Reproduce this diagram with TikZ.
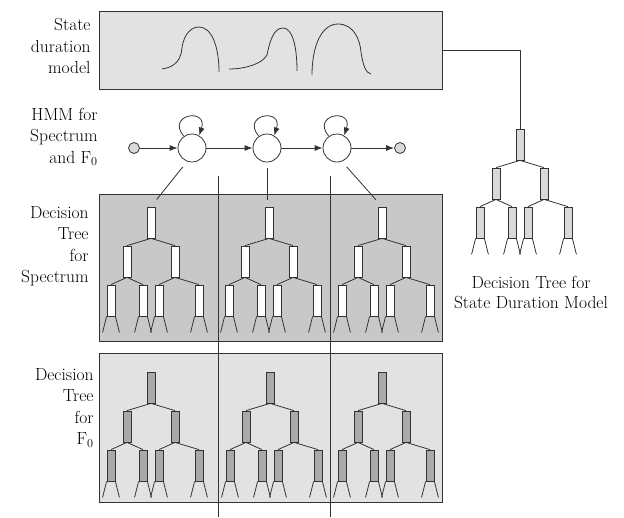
\documentclass[tikz,border=0pt]{standalone}
\usetikzlibrary{arrows.meta}

\definecolor{lightpanel}{HTML}{E2E2E3}
\definecolor{darkpanel}{HTML}{C8C8C9}
\definecolor{fzeronode}{HTML}{A9A9AA}
\definecolor{durnode}{HTML}{D9D9DA}
\definecolor{edgegray}{HTML}{333333}

\tikzset{
  panel/.style={draw=edgegray, line width=1.2pt, anchor=north west, inner sep=0pt},
  treenode/.style={draw=edgegray, line width=0.8pt, minimum width=8pt, minimum height=31pt, inner sep=0pt},
  state/.style={circle, draw=edgegray, fill=white, line width=0.8pt, minimum size=28pt, inner sep=0pt},
  endstate/.style={circle, draw=edgegray, fill=durnode, line width=0.8pt, minimum size=11pt, inner sep=0pt},
  sidetext/.style={align=right, anchor=east, inner sep=0pt, font=\fontsize{17.5}{21.5}\selectfont},
  trans/.style={-{Latex[length=8pt, width=6pt]}}
}

\begin{document}
\begin{tikzpicture}[x=1pt, y=-1pt, line width=0.8pt, draw=edgegray]
    \useasboundingbox (0,0) rectangle (624,517);

    % panels
    \node[panel, fill=lightpanel, minimum width=343pt, minimum height=78pt] (dur) at (99,11) {};
    \node[panel, fill=darkpanel, minimum width=343pt, minimum height=147pt] (spec) at (99,194) {};
    \node[panel, fill=lightpanel, minimum width=343pt, minimum height=149pt] (fzero) at (99,353) {};

    % side texts
    \node[sidetext] (durtext) at (91,46) {State\\duration\\model};
    \node[sidetext] (hmmtext) at (98,137) {HMM for\\Spectrum\\and F\textsubscript{0}};
    \node[sidetext] (spectext) at (89,246) {Decision\\Tree\\for\\Spectrum};
    \node[sidetext] (fzerotext) at (94,408) {Decision\\Tree\\for\\F\textsubscript{0}};

    % state separators
    \coordinate (sepa top) at (218,176);
    \coordinate (sepa bot) at (218,517);
    \coordinate (sepb top) at (330,176);
    \coordinate (sepb bot) at (330,517);
    \draw (sepa top) -- (sepa bot);
    \draw (sepb top) -- (sepb bot);

    % duration densities
    %% first
    \draw (162,69) .. controls (176,67) and (181,59) .. (182,48)
      .. controls (184,33) and (192,27) .. (199,27)
      .. controls (211,27) and (219,45) .. (219,72);
    %% second
    \draw (229,69) .. controls (245,69) and (262,64) .. (267,55)
      .. controls (270,40) and (274,28) .. (283,28)
      .. controls (293,28) and (297,48) .. (297,71);
    %% third
    \draw (312,75) .. controls (312,45) and (322,24) .. (338,24)
      .. controls (354,24) and (360,40) .. (361,52)
      .. controls (363,66) and (366,73) .. (371,74);

    % HMM
    \node[endstate] (init) at (134,148) {};
    \node[state] (s1) at (192,148) {};
    \node[state] (s2) at (267,148) {};
    \node[state] (s3) at (337,148) {};
    \node[endstate] (fin) at (400,148) {};
    \draw[trans] (init) -- (s1);
    \draw[trans] (s1) -- (s2);
    \draw[trans] (s2) -- (s3);
    \draw[trans] (s3) -- (fin);
    \foreach \s in {s1,s2,s3}
      \draw[trans] (\s.125) .. controls +(-18,-22) and +(9,-28) .. (\s.60);

    % decision trees
    \foreach \n/\x/\y/\c in {sp1/151/207/white, sp2/269/207/white, sp3/382/207/white,
                             fz1/151/372/fzeronode, fz2/270/372/fzeronode, fz3/382/372/fzeronode,
                             dm/520/129/durnode} {
      \node[treenode, fill=\c] (\n-r) at ({\x},{\y+15.5}) {};
      \node[treenode, fill=\c] (\n-a) at ({\x-24},{\y+54.5}) {};
      \node[treenode, fill=\c] (\n-b) at ({\x+24},{\y+54.5}) {};
      \foreach \k/\dx in {aa/-40, ab/-8, ba/8, bb/48}
        \node[treenode, fill=\c] (\n-\k) at ({\x+\dx},{\y+93.5}) {};
      \draw (\n-r.south) -- (\n-a.north);
      \draw (\n-r.south) -- (\n-b.north);
      \draw (\n-a.south) -- (\n-aa.north);
      \draw (\n-a.south) -- (\n-ab.north);
      \draw (\n-b.south) -- (\n-ba.north);
      \draw (\n-b.south) -- (\n-bb.north);
      \foreach \k in {aa,ab,ba,bb} {
        \draw (\n-\k.south west) -- +(-4,16);
        \draw (\n-\k.south east) -- +(4,16);
      }
    }

    % states to trees
    \draw[shorten <=7pt, shorten >=9pt] (s1.250) -- (sp1-r.north);
    \draw[shorten <=6pt, shorten >=7pt] (s2.south) -- (s2.south |- sp2-r.north);
    \draw[shorten <=7pt, shorten >=9pt] (s3.290) -- (sp3-r.north);

    % duration model to its tree
    \draw (dur.east) -| (dm-r.north);
    \node[font=\fontsize{17.5}{20}\selectfont, align=center] (durcap) at (531,292) {Decision Tree for\\State Duration Model};
\end{tikzpicture}
\end{document}
